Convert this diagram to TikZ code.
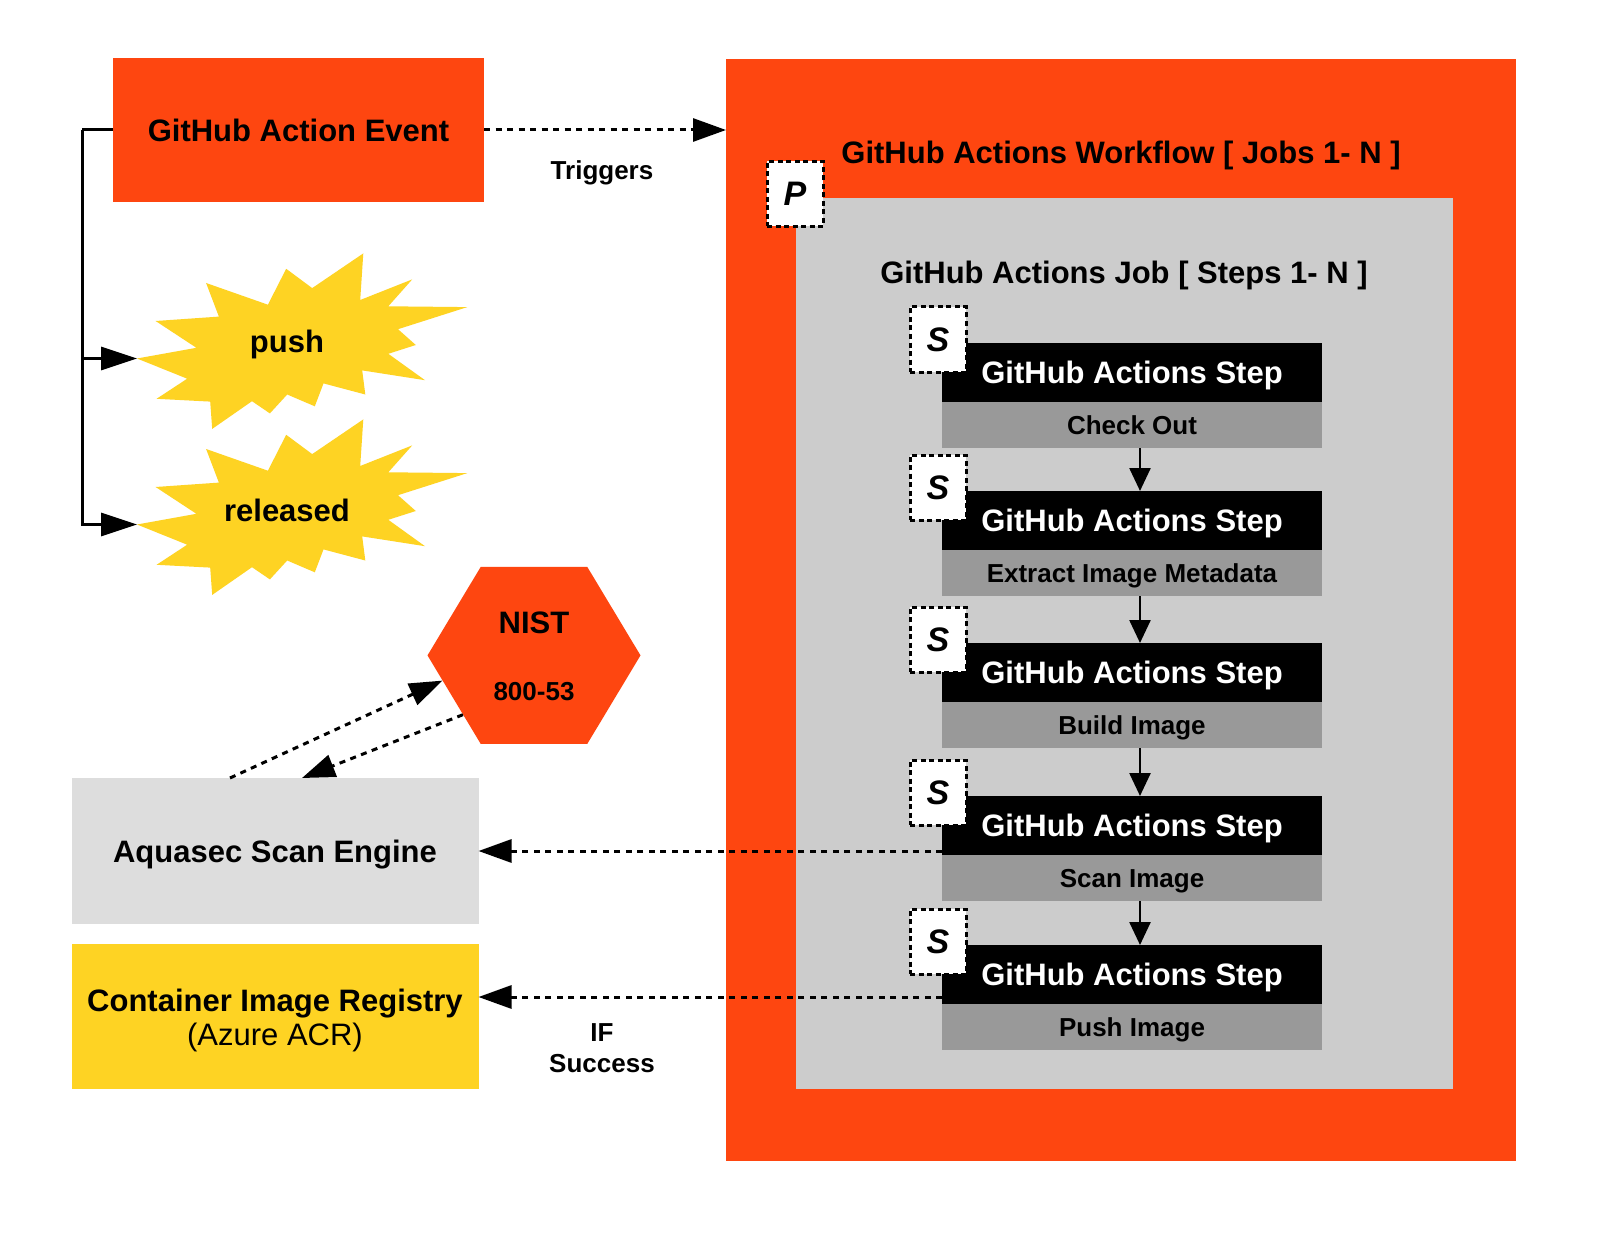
\documentclass[tikz,border=0pt]{standalone}
\usepackage{fontspec}
\setmainfont{Liberation Sans}
\usetikzlibrary{arrows.meta,shapes.geometric}
\definecolor{orng}{RGB}{254,70,16}
\definecolor{yel}{RGB}{254,211,35}
\definecolor{lgray}{RGB}{221,221,221}
\definecolor{jgray}{RGB}{204,204,204}
\definecolor{sgray}{RGB}{153,153,153}
\newcommand\myburst{(137,358.5) -- (196.4,347.8) -- (155.6,321) -- (218.9,316.6) -- (206.1,283) -- (267.9,304.7) -- (286.2,268.8) -- (312.2,288.1) -- (363.3,253.4) -- (360.2,300) -- (412.2,279.4) -- (388.3,306.3) -- (467.3,307.1) -- (398,329.2) -- (415.8,345) -- (388.3,353.8) -- (425,380.2) -- (362.2,370.4) -- (365.3,394.5) -- (323.5,383.4) -- (314.8,406.3) -- (287.2,394.5) -- (269.9,413.4) -- (252,401.2) -- (212.2,428.9) -- (210.2,401.6) -- (156.6,398.8) -- (187.2,378.7) -- cycle}
\begin{document}
\begin{tikzpicture}[x=1pt,y=-1pt,
  bigf/.style={font=\fontsize{31}{36}\selectfont\bfseries},
  smallf/.style={font=\fontsize{26}{30}\selectfont\bfseries},
  rbox/.style={draw=none,inner sep=0,outer sep=0},
  lbl/.style={inner sep=0,text depth=0pt},
  tagbox/.style={rbox,fill=white,draw=black,line width=3pt,dash pattern=on 5pt off 3.5pt,
     minimum width=56pt,minimum height=65pt,font=\fontsize{34}{40}\selectfont\bfseries\itshape},
  blackbox/.style={rbox,fill=black,text=white,minimum width=380pt,minimum height=59pt,text depth=0pt,bigf},
  graybox/.style={rbox,fill=sgray,minimum width=380pt,minimum height=46pt,text depth=0pt,smallf},
  dasharrow/.style={line width=3pt,dash pattern=on 6pt off 5.5pt,-{Triangle[length=33pt,width=23pt]}},
  steparrow/.style={line width=2.5pt,-{Triangle[length=23pt,width=21pt]}},
  solidarrow/.style={line width=3pt,-{Triangle[length=36pt,width=23pt]}}
]
\useasboundingbox (0,0) rectangle (1617,1249);
\fill[white] (0,0) rectangle (1617,1249);

% left column
\node[rbox,fill=orng,minimum width=371pt,minimum height=144pt,bigf] (event) at (298.5,130) {GitHub Action Event};
\node[lbl,smallf] (trig) at (602,170.5) {Triggers};

\fill[yel] \myburst;
\begin{scope}[shift={(0,166)}]
\fill[yel] \myburst;
\end{scope}
\node[bigf,inner sep=0] (push) at (287,344) {push};
\node[bigf,inner sep=0] (rel) at (287,510) {released};
\coordinate (pushtip) at (137,358.5);
\coordinate (reltip) at (137,524.5);
\coordinate (bx) at (82,130);

\draw[line width=3pt] (event.west) -- (bx);
\draw[solidarrow] (bx) |- (reltip);
\draw[solidarrow] (bx |- pushtip) -- (pushtip);

\node[regular polygon,regular polygon sides=6,minimum size=213pt,yscale=0.96,inner sep=0,fill=orng] (nist) at (534,655.4) {};
\node[bigf,inner sep=0] (nistt) at (534,623) {NIST};
\node[smallf,inner sep=0] (nistn) at (534,691.5) {800-53};

\node[rbox,fill=lgray,minimum width=407pt,minimum height=146pt,text depth=0pt,bigf] (aqua) at (275,851) {Aquasec Scan Engine};
\node[rbox,fill=yel,minimum width=407pt,minimum height=145pt] (reg) at (275,1016) {};
\node[lbl,bigf] (regt) at (275,1000) {Container Image Registry};
\node[lbl,font=\fontsize{31}{34}\selectfont] (regs) at (275,1034) {(Azure ACR)};
\node[lbl,smallf] (ift) at (602,1033) {IF};
\node[lbl,smallf] (succ) at (602,1063) {Success};

% workflow
\node[rbox,fill=orng,minimum width=790pt,minimum height=1102pt] (wf) at (1121,610) {};
\node[lbl,bigf] (wft) at (1121,152.5) {GitHub Actions Workflow [ Jobs 1- N ]};
\node[rbox,fill=jgray,minimum width=657pt,minimum height=891pt] (job) at (1124.5,643.5) {};
\node[tagbox] (pbox) at (795,194) {P};
\node[lbl,bigf] (jobt) at (1124,272.7) {GitHub Actions Job [ Steps 1- N ]};

\foreach \i/\t/\lab in {1/343/Check Out,2/491/Extract Image Metadata,3/643/Build Image,4/796/Scan Image,5/945/Push Image}{
  \node[blackbox] (b\i) at (1132,\t+29.5) {GitHub Actions Step};
  \node[graybox] (g\i) at (1132,\t+82) {\lab};
  \node[tagbox] (s\i) at (938,\t-3.5) {S};
}
\foreach \i/\j in {1/2,2/3,3/4,4/5}{
  \draw[steparrow] ([xshift=8pt]g\i.south) -- ([xshift=8pt]b\j.north);
}

% connectors
\draw[dasharrow] (event.east) -- (event.east -| wf.west);
\draw[dasharrow] (b4.west |- aqua.east) -- (aqua.east);
\coordinate (regin) at ([yshift=19pt]reg.east);
\draw[dasharrow] (b5.west |- regin) -- (regin);
\draw[dasharrow] ([xshift=-45pt]aqua.north) -- (nist.196);
\draw[dasharrow] (nist.221) -- ([xshift=27pt]aqua.north);
\end{tikzpicture}
\end{document}
